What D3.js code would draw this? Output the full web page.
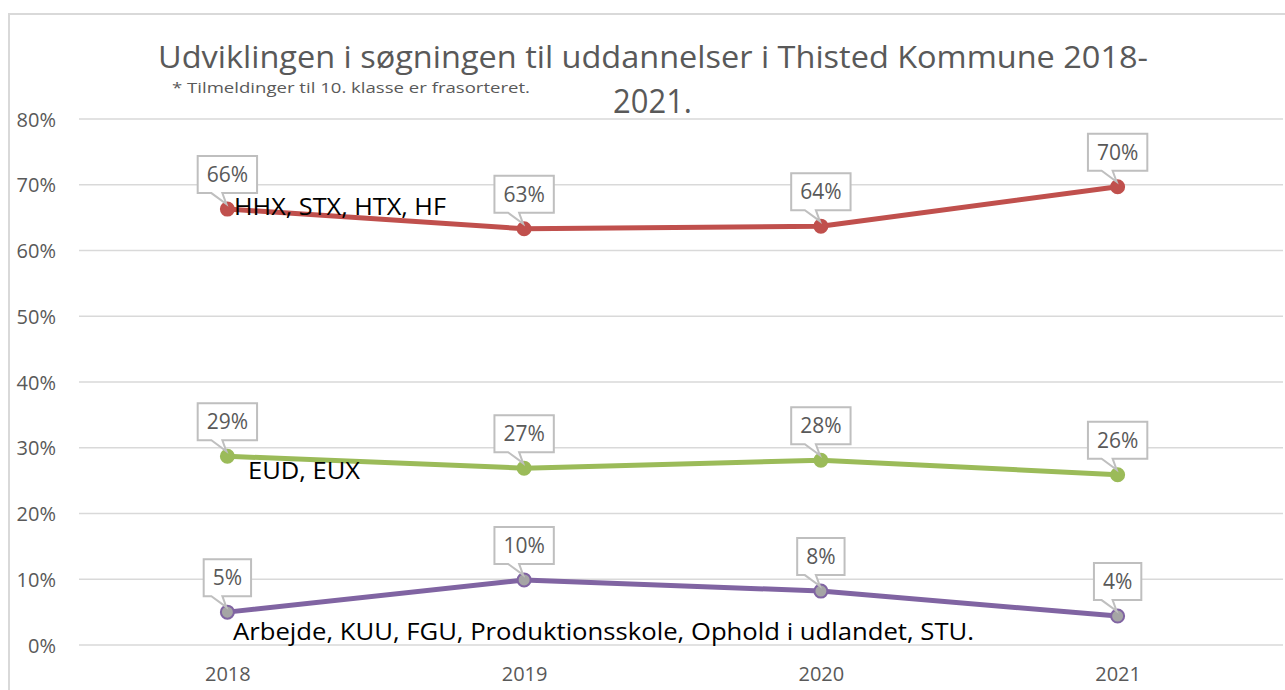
<!DOCTYPE html>
<html><head><meta charset="utf-8">
<script src="https://cdn.jsdelivr.net/npm/d3@7"></script>
<style>
html,body{margin:0;padding:0;background:#fff;}
svg{display:block;font-family:"Open Sans",sans-serif;}
</style></head>
<body><svg id="c" width="1285" height="690"></svg>
<script>
const years = ["2018", "2019", "2020", "2021"];
const gymnasial = [66.3, 63.3, 63.7, 69.7];
const erhverv = [28.7, 26.9, 28.1, 25.9];
const andet = [5.0, 9.9, 8.2, 4.4];
const seriesNames = ["HHX, STX, HTX, HF", "EUD, EUX", "Arbejde, KUU, FGU, Produktionsskole, Ophold i udlandet, STU."];
const yTicks = [0, 10, 20, 30, 40, 50, 60, 70, 80];
const titleLines = ["Udviklingen i søgningen til uddannelser i Thisted Kommune 2018-", "2021."];
const subtitle = "* Tilmeldinger til 10. klasse er frasorteret.";

const svg = d3.select("#c");
const grey = "#595959";

// frame
svg.append("path").attr("d", "M9,690 L9,14 L1285,14").attr("fill", "none")
  .attr("stroke", "#D9D9D9").attr("stroke-width", 2);

const x = d3.scalePoint().domain(years).range([79, 1266]).padding(0.5);
const y = d3.scaleLinear().domain([0, 80]).range([645, 119]);

// grid
svg.append("g").selectAll("line").data(yTicks).join("line")
  .attr("x1", 79).attr("x2", 1283)
  .attr("y1", d => y(d)).attr("y2", d => y(d))
  .attr("stroke", "#D9D9D9").attr("stroke-width", 1.5);

// y axis labels
const yAxis = d3.axisLeft(y).tickValues(yTicks).tickFormat(d => d + "%").tickSize(0).tickPadding(0);
const ya = svg.append("g").attr("transform", "translate(56,0)").call(yAxis);
ya.select(".domain").remove();
ya.selectAll("text").attr("font-size", 20).attr("fill", grey).attr("font-family", "Open Sans").attr("dy", "0.35em");

// x axis labels
const xAxis = d3.axisBottom(x).tickSize(0).tickPadding(0);
const xa = svg.append("g").attr("transform", "translate(0,662)").call(xAxis);
xa.select(".domain").remove();
xa.selectAll("text").attr("font-size", 20).attr("fill", grey).attr("font-family", "Open Sans").attr("dy", "0.95em");

const series = [
  {vals: gymnasial, color: "#C0504D", fill: "#C0504D"},
  {vals: erhverv, color: "#9BBB59", fill: "#9BBB59"},
  {vals: andet, color: "#8064A2", fill: "#A5A5A5"}
];

const line = d3.line().x((d, i) => x(years[i])).y(d => y(d));
series.forEach(s => {
  svg.append("path").datum(s.vals).attr("d", line).attr("fill", "none")
    .attr("stroke", s.color).attr("stroke-width", 5).attr("stroke-linejoin", "round");
});
series.forEach(s => {
  svg.append("g").selectAll("circle").data(s.vals).join("circle")
    .attr("cx", (d, i) => x(years[i])).attr("cy", d => y(d)).attr("r", 6.5)
    .attr("fill", s.fill).attr("stroke", s.color).attr("stroke-width", 2);
});

// callouts
series.forEach(s => {
  s.vals.forEach((v, i) => {
    const px = x(years[i]), py = y(v);
    const label = Math.round(v) + "%";
    const g = svg.append("g");
    const t = g.append("text").attr("font-size", 21).attr("fill", grey)
      .attr("text-anchor", "middle").text(label);
    const w = t.node().getComputedTextLength() + 18;
    const bottom = py - 16, top = bottom - 37;
    const left = px - w / 2;
    g.insert("path", "text").attr("d",
      `M${left},${top} H${left + w} V${bottom} H${px - 5} L${px - 1},${py - 5} L${px - 16},${bottom} H${left} Z`)
      .attr("fill", "#fff").attr("stroke", "#BFBFBF").attr("stroke-width", 2).attr("stroke-linejoin", "miter");
    t.attr("x", px).attr("y", top + 26);
  });
});

// series labels
const lab = [
  {text: seriesNames[0], x: 234, y: 215, len: 212},
  {text: seriesNames[1], x: 248, y: 479, len: 112},
  {text: seriesNames[2], x: 233, y: 640, len: 741}
];
lab.forEach(l => {
  svg.append("text").attr("x", l.x).attr("y", l.y).attr("font-size", 24).attr("fill", "#000")
    .attr("textLength", l.len).attr("lengthAdjust", "spacingAndGlyphs").text(l.text);
});

// title
svg.append("text").attr("x", 158).attr("y", 68).attr("font-size", 31).attr("fill", grey)
  .attr("textLength", 990).attr("lengthAdjust", "spacingAndGlyphs").text(titleLines[0]);
svg.append("text").attr("x", 613).attr("y", 113).attr("font-size", 32).attr("fill", grey)
  .attr("textLength", 79).attr("lengthAdjust", "spacingAndGlyphs").text(titleLines[1]);
svg.append("text").attr("x", 172).attr("y", 93).attr("font-size", 14).attr("fill", grey)
  .attr("textLength", 358).attr("lengthAdjust", "spacingAndGlyphs").text(subtitle);
</script></body></html>
